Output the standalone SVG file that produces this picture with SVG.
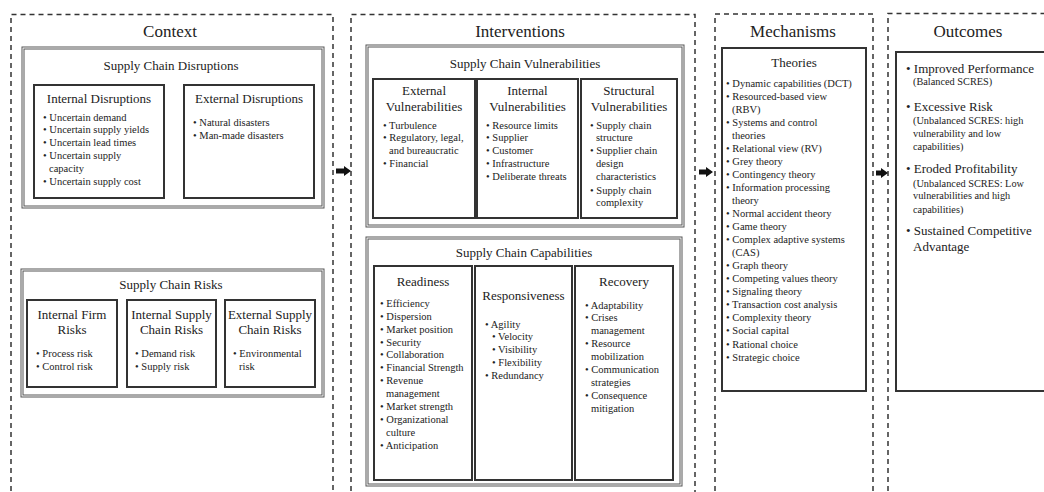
<svg xmlns="http://www.w3.org/2000/svg" width="1044" height="492" viewBox="0 0 1044 492" font-family="'Liberation Serif', 'DejaVu Serif', serif">
  <style>
    text { font-family: "Liberation Serif", "DejaVu Serif", serif; fill: #222; }
    .h1 { font-size: 17px; text-anchor: middle; }
    .h2 { font-size: 13px; text-anchor: middle; }
    .li { font-size: 10.5px; }
    .lo { font-size: 13px; }
    .ls { font-size: 10.3px; }
    .dash { fill: none; stroke: #333; stroke-width: 1.5; stroke-dasharray: 5 4; }
    .dbl { fill: #fff; stroke: #555; stroke-width: 3; }
    .dblin { fill: none; stroke: #fff; stroke-width: 1; }
    .box { fill: none; stroke: #333; stroke-width: 2; }
    .arrow { fill: #111; }
  </style>
  <rect width="1044" height="492" fill="#fff"/>

  <!-- Column frames -->
  <g id="context">
    <path class="dash" d="M11,500 V14.5 H333 V500"/>
    <text class="h1" x="170" y="37">Context</text>
  </g>
  <g id="interventions">
    <path class="dash" d="M351,500 V14.5 H695 V500"/>
    <text class="h1" x="520" y="37">Interventions</text>
  </g>
  <g id="mechanisms">
    <path class="dash" d="M715,500 V14 H873 V500"/>
    <text class="h1" x="793" y="37">Mechanisms</text>
  </g>
  <g id="outcomes">
    <path class="dash" d="M888,500 V13.5 H1050"/>
    <text class="h1" x="968" y="37">Outcomes</text>
  </g>

  <!-- Supply chain disruptions -->
  <g id="sc-disruptions">
    <rect class="dbl" x="23" y="48" width="300" height="159"/>
    <rect class="dblin" x="23" y="48" width="300" height="159"/>
    <text class="h2" x="171" y="70">Supply Chain Disruptions</text>
  </g>
  <g id="internal-disruptions">
    <rect class="box" x="34" y="85" width="130" height="113"/>
    <text class="h2" x="99" y="103">Internal Disruptions</text>
    <text class="li" x="43" y="120.5">• Uncertain demand</text>
    <text class="li" x="43" y="133.3">• Uncertain supply yields</text>
    <text class="li" x="43" y="146.1">• Uncertain lead times</text>
    <text class="li" x="43" y="158.9">• Uncertain supply</text>
    <text class="li" x="49" y="171.7">capacity</text>
    <text class="li" x="43" y="184.5">• Uncertain supply cost</text>
  </g>
  <g id="external-disruptions">
    <rect class="box" x="184" y="85" width="130" height="113"/>
    <text class="h2" x="249" y="103">External Disruptions</text>
    <text class="li" x="193" y="125.5">• Natural disasters</text>
    <text class="li" x="193" y="139">• Man-made disasters</text>
  </g>

  <!-- Supply chain risks -->
  <g id="sc-risks">
    <rect class="dbl" x="22" y="270" width="301" height="126"/>
    <rect class="dblin" x="22" y="270" width="301" height="126"/>
    <text class="h2" x="171" y="289">Supply Chain Risks</text>
  </g>
  <g id="internal-firm-risks">
    <rect class="box" x="27" y="300" width="90" height="87"/>
    <text class="h2" x="72" y="319">Internal Firm</text>
    <text class="h2" x="72" y="334">Risks</text>
    <text class="li" x="36" y="356.5">• Process risk</text>
    <text class="li" x="36" y="369.5">• Control risk</text>
  </g>
  <g id="internal-sc-risks">
    <rect class="box" x="127" y="300" width="89" height="87"/>
    <text class="h2" x="171.5" y="319">Internal Supply</text>
    <text class="h2" x="171.5" y="334">Chain Risks</text>
    <text class="li" x="135" y="356.5">• Demand risk</text>
    <text class="li" x="135" y="369.5">• Supply risk</text>
  </g>
  <g id="external-sc-risks">
    <rect class="box" x="225" y="300" width="90" height="87"/>
    <text class="h2" x="270" y="319">External Supply</text>
    <text class="h2" x="270" y="334">Chain Risks</text>
    <text class="li" x="233" y="356.5">• Environmental</text>
    <text class="li" x="239" y="369.5">risk</text>
  </g>

  <!-- Supply chain vulnerabilities -->
  <g id="sc-vulnerabilities">
    <rect class="dbl" x="367" y="46" width="316" height="180"/>
    <rect class="dblin" x="367" y="46" width="316" height="180"/>
    <text class="h2" x="525" y="68">Supply Chain Vulnerabilities</text>
  </g>
  <g id="external-vulnerabilities">
    <rect class="box" x="373" y="79" width="102" height="139"/>
    <text class="h2" x="424" y="95">External</text>
    <text class="h2" x="424" y="111">Vulnerabilities</text>
    <text class="li" x="383" y="128.5">• Turbulence</text>
    <text class="li" x="383" y="141">• Regulatory, legal,</text>
    <text class="li" x="389" y="153.5">and bureaucratic</text>
    <text class="li" x="383" y="167">• Financial</text>
  </g>
  <g id="internal-vulnerabilities">
    <rect class="box" x="477" y="79" width="101" height="139"/>
    <text class="h2" x="527.5" y="95">Internal</text>
    <text class="h2" x="527.5" y="111">Vulnerabilities</text>
    <text class="li" x="486" y="128.5">• Resource limits</text>
    <text class="li" x="486" y="141">• Supplier</text>
    <text class="li" x="486" y="153.5">• Customer</text>
    <text class="li" x="486" y="167">• Infrastructure</text>
    <text class="li" x="486" y="180">• Deliberate threats</text>
  </g>
  <g id="structural-vulnerabilities">
    <rect class="box" x="581" y="79" width="96" height="139"/>
    <text class="h2" x="629" y="95">Structural</text>
    <text class="h2" x="629" y="111">Vulnerabilities</text>
    <text class="li" x="590" y="128.5">• Supply chain</text>
    <text class="li" x="596" y="141">structure</text>
    <text class="li" x="590" y="153.5">• Supplier chain</text>
    <text class="li" x="596" y="167">design</text>
    <text class="li" x="596" y="180">characteristics</text>
    <text class="li" x="590" y="193.5">• Supply chain</text>
    <text class="li" x="596" y="206">complexity</text>
  </g>

  <!-- Supply chain capabilities -->
  <g id="sc-capabilities">
    <rect class="dbl" x="367" y="238" width="314" height="247"/>
    <rect class="dblin" x="367" y="238" width="314" height="247"/>
    <text class="h2" x="524" y="257">Supply Chain Capabilities</text>
  </g>
  <g id="readiness">
    <rect class="box" x="374" y="266" width="98" height="214"/>
    <text class="h2" x="423" y="286">Readiness</text>
    <text class="li" x="380" y="306.8">• Efficiency</text>
    <text class="li" x="380" y="319.7">• Dispersion</text>
    <text class="li" x="380" y="332.6">• Market position</text>
    <text class="li" x="380" y="345.5">• Security</text>
    <text class="li" x="380" y="358.4">• Collaboration</text>
    <text class="li" x="380" y="371.3">• Financial Strength</text>
    <text class="li" x="380" y="384.2">• Revenue</text>
    <text class="li" x="386" y="397.1">management</text>
    <text class="li" x="380" y="410">• Market strength</text>
    <text class="li" x="380" y="422.9">• Organizational</text>
    <text class="li" x="386" y="435.8">culture</text>
    <text class="li" x="380" y="448.7">• Anticipation</text>
  </g>
  <g id="responsiveness">
    <rect class="box" x="475" y="266" width="97" height="214"/>
    <text class="h2" x="523.5" y="300">Responsiveness</text>
    <text class="li" x="485" y="327.5">• Agility</text>
    <text class="li" x="492" y="340.3">• Velocity</text>
    <text class="li" x="492" y="353.1">• Visibility</text>
    <text class="li" x="492" y="365.9">• Flexibility</text>
    <text class="li" x="485" y="378.7">• Redundancy</text>
  </g>
  <g id="recovery">
    <rect class="box" x="575" y="266" width="98" height="214"/>
    <text class="h2" x="624" y="286">Recovery</text>
    <text class="li" x="585" y="308.5">• Adaptability</text>
    <text class="li" x="585" y="321.4">• Crises</text>
    <text class="li" x="591" y="334.3">management</text>
    <text class="li" x="585" y="347.2">• Resource</text>
    <text class="li" x="591" y="360.1">mobilization</text>
    <text class="li" x="585" y="373">• Communication</text>
    <text class="li" x="591" y="385.9">strategies</text>
    <text class="li" x="585" y="398.8">• Consequence</text>
    <text class="li" x="591" y="411.7">mitigation</text>
  </g>

  <!-- Theories -->
  <g id="theories">
    <rect class="box" x="722" y="48" width="144" height="343"/>
    <text class="h2" x="794" y="67">Theories</text>
    <text class="li" x="726" y="86.5">• Dynamic capabilities (DCT)</text>
    <text class="li" x="726" y="99.5">• Resourced-based view</text>
    <text class="li" x="732" y="112.6">(RBV)</text>
    <text class="li" x="726" y="125.6">• Systems and control</text>
    <text class="li" x="732" y="138.7">theories</text>
    <text class="li" x="726" y="151.7">• Relational view (RV)</text>
    <text class="li" x="726" y="164.8">• Grey theory</text>
    <text class="li" x="726" y="177.8">• Contingency theory</text>
    <text class="li" x="726" y="190.9">• Information processing</text>
    <text class="li" x="732" y="203.9">theory</text>
    <text class="li" x="726" y="217">• Normal accident theory</text>
    <text class="li" x="726" y="230">• Game theory</text>
    <text class="li" x="726" y="243.1">• Complex adaptive systems</text>
    <text class="li" x="732" y="256.1">(CAS)</text>
    <text class="li" x="726" y="269.2">• Graph theory</text>
    <text class="li" x="726" y="282.2">• Competing values theory</text>
    <text class="li" x="726" y="295.3">• Signaling theory</text>
    <text class="li" x="726" y="308.3">• Transaction cost analysis</text>
    <text class="li" x="726" y="321.4">• Complexity theory</text>
    <text class="li" x="726" y="334.4">• Social capital</text>
    <text class="li" x="726" y="347.5">• Rational choice</text>
    <text class="li" x="726" y="360.5">• Strategic choice</text>
  </g>

  <!-- Outcome list -->
  <g id="outcome-list">
    <path class="box" d="M1050,52 H896 V391 H1050"/>
    <text class="lo" x="906" y="72.7">• Improved Performance</text>
    <text class="ls" x="913" y="85">(Balanced SCRES)</text>
    <text class="lo" x="906" y="111">• Excessive Risk</text>
    <text class="ls" x="913" y="123.5">(Unbalanced SCRES: high</text>
    <text class="ls" x="913" y="136.7">vulnerability and low</text>
    <text class="ls" x="913" y="150">capabilities)</text>
    <text class="lo" x="906" y="172.7">• Eroded Profitability</text>
    <text class="ls" x="913" y="186.7">(Unbalanced SCRES: Low</text>
    <text class="ls" x="913" y="199.3">vulnerabilities and high</text>
    <text class="ls" x="913" y="212.7">capabilities)</text>
    <text class="lo" x="906" y="235">• Sustained Competitive</text>
    <text class="lo" x="913" y="250.7">Advantage</text>
  </g>

  <!-- Connectors between columns -->
  <g id="connectors">
    <polygon class="arrow" points="336,168.5 344,168.5 344,166 351,171 344,176 344,173.5 336,173.5"/>
    <polygon class="arrow" points="699,169.5 706,169.5 706,167 713,172 706,177 706,174.5 699,174.5"/>
    <polygon class="arrow" points="876,170.5 881,170.5 881,168 888,173 881,178 881,175.5 876,175.5"/>
  </g>
</svg>
